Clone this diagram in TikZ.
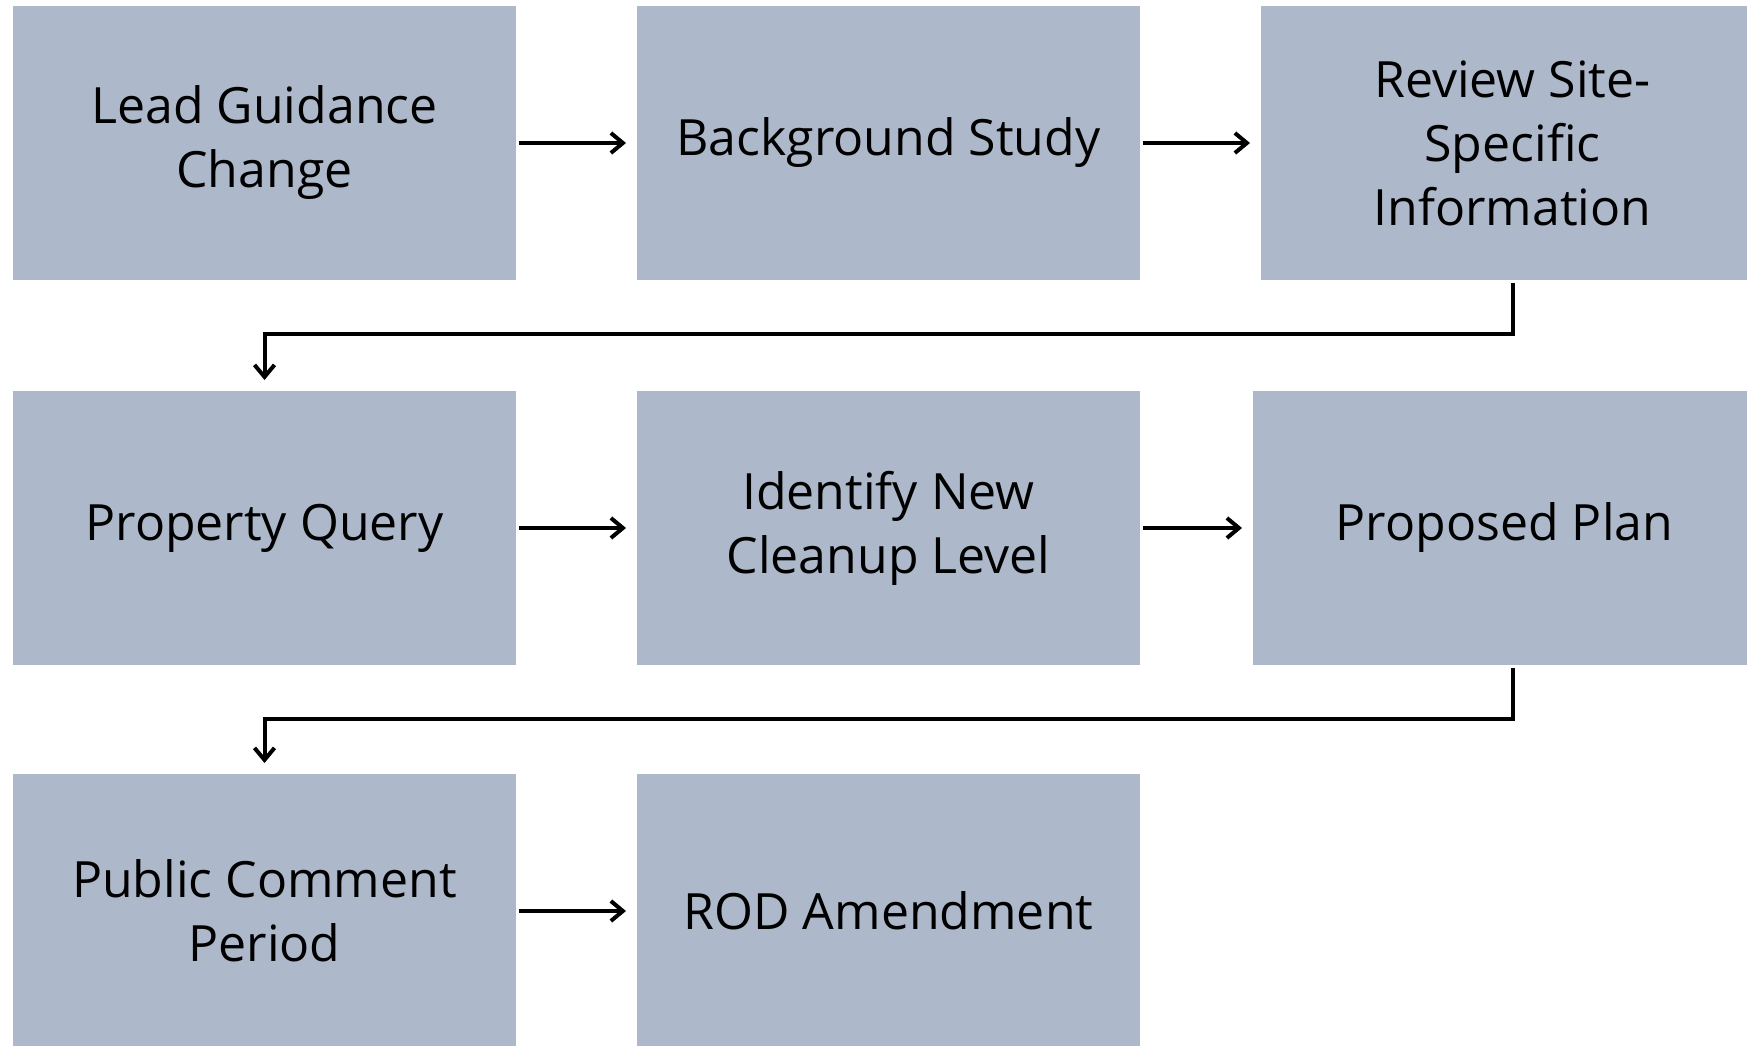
\documentclass[tikz,border=0pt]{standalone}
\usepackage{fontspec}
\setmainfont{Open Sans}
\usetikzlibrary{positioning,arrows.meta}
\definecolor{boxgray}{RGB}{173,185,202}
\begin{document}
\begin{tikzpicture}[box/.style={rectangle, fill=boxgray, minimum width=503pt, minimum height=274pt, inner sep=0pt, outer sep=0pt, align=center, font=\fontsize{50}{64}\selectfont},
  flow/.style={line width=4pt, -{Straight Barb[length=12pt,width=20pt,line width=4pt]}, shorten <=3pt, shorten >=11pt}]
\useasboundingbox (0,0) rectangle (1747pt,-1046pt);
\node [box] (lead) at (264.5pt,-143pt) {Lead Guidance\\Change};
\node [box, right=121pt of lead] (bg) {Background Study};
\node [box, right=121pt of bg] (review) {Review Site-\\Specific\\Information};
\node [box, below=111pt of lead] (query) {Property Query};
\node [box, right=121pt of query] (ident) {Identify New\\Cleanup Level};
\node [box, right=113pt of ident] (plan) {Proposed Plan};
\node [box, below=109pt of query] (comment) {Public Comment\\Period};
\node [box, right=121pt of comment] (rod) {ROD Amendment};
\draw [flow] (lead) -- (bg);
\draw [flow] (bg) -- (review);
\draw [flow] (review.south) -- ++(0,-54pt) -| (query.north);
\draw [flow] (query) -- (ident);
\draw [flow] (ident) -- (plan);
\draw [flow] ([xshift=8pt]plan.south) -- ++(0,-54pt) -| (comment.north);
\draw [flow] (comment) -- (rod);
\end{tikzpicture}
\end{document}
